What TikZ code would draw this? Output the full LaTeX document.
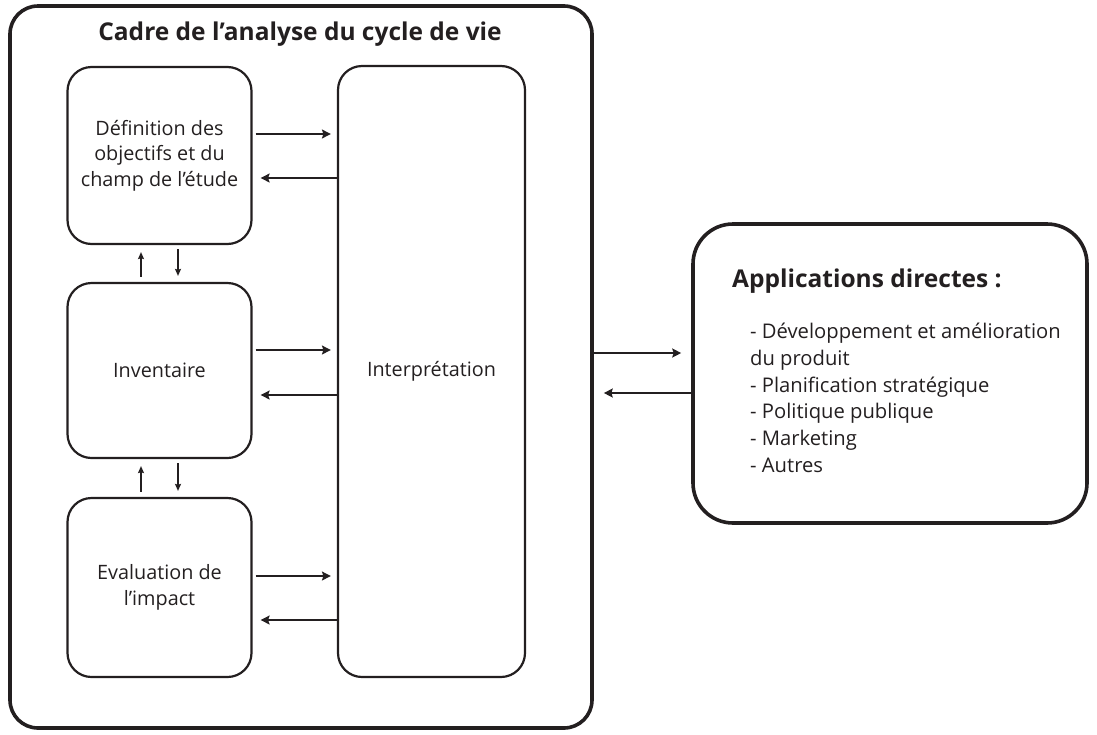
\documentclass[tikz,border=0pt]{standalone}
\usepackage{fontspec}
\setmainfont{Open Sans}
\usetikzlibrary{arrows.meta}
\definecolor{ink}{RGB}{35,31,32}
\begin{document}
\begin{tikzpicture}[x=1pt,y=-1pt, color=ink, text=ink,
  box/.style={draw=ink, line width=2.2pt, rounded corners=24pt, align=center,
    font=\fontsize{19.8}{25.5}\selectfont, inner sep=0pt},
  arr/.style={draw=ink, line width=1.5pt, -{Stealth[length=9pt,width=9pt,inset=1.5pt]}},
  sarr/.style={draw=ink, line width=1.5pt, -{Stealth[length=7pt,width=6pt,inset=1pt]}},
  bold/.style={font=\fontsize{24.5}{29}\selectfont\bfseries, inner sep=0pt}]
\useasboundingbox (0,0) rectangle (1097,734);
% outer frame
\node[draw=ink, line width=3.6pt, rounded corners=28pt, minimum width=582pt, minimum height=722pt, inner sep=0pt] (frame) at (301,367) {};
\node[bold, anchor=base] (title) at (300,40) {Cadre de l’analyse du cycle de vie};
% boxes
\node[box, minimum width=184pt, minimum height=177pt] (def) at (159.5,155.5) {Définition des\\objectifs et du\\champ de l’étude};
\node[box, minimum width=184pt, minimum height=175pt] (inv) at (159.5,370.5) {Inventaire};
\node[box, minimum width=184pt, minimum height=179pt] (eva) at (159.5,587.5) {Evaluation de\\l’impact};
\node[box, minimum width=187pt, minimum height=611pt] (int) at (431.5,371.5) {Interprétation};
% applications
\node[draw=ink, line width=3.6pt, rounded corners=40pt, minimum width=394pt, minimum height=299pt, inner sep=0pt] (app) at (890,373.5) {};
\node[bold, anchor=base west] (apptitle) at (732,287) {Applications directes :};
\node[anchor=north west, align=left, font=\fontsize{20.2}{26.7}\selectfont, inner sep=0pt] (list) at (750,323)
  {- Développement et amélioration\\du produit\\- Planification stratégique\\- Politique publique\\- Marketing\\- Autres};
% horizontal arrows
\draw[arr] ([xshift=3pt]def.east |- 0,134) -- ([xshift=-6pt]int.west |- 0,134);
\draw[arr] (int.west |- 0,178) -- ([xshift=8pt]def.east |- 0,178);
\draw[arr] ([xshift=3pt]inv.east |- 0,350) -- ([xshift=-6pt]int.west |- 0,350);
\draw[arr] (int.west |- 0,395) -- ([xshift=8pt]inv.east |- 0,395);
\draw[arr] ([xshift=3pt]eva.east |- 0,576) -- ([xshift=-6pt]int.west |- 0,576);
\draw[arr] (int.west |- 0,620) -- ([xshift=8pt]eva.east |- 0,620);
% vertical arrows
\draw[sarr] ([yshift=5pt]inv.north -| 141,0) -- ([yshift=-7pt]def.south -| 141,0);
\draw[sarr] ([yshift=-4pt]def.south -| 178,0) -- ([yshift=6pt]inv.north -| 178,0);
\draw[sarr] ([yshift=5pt]eva.north -| 141,0) -- ([yshift=-7pt]inv.south -| 141,0);
\draw[sarr] ([yshift=-4pt]inv.south -| 178,0) -- ([yshift=6pt]eva.north -| 178,0);
% big arrows
\draw[arr] (frame.east |- 0,353) -- ([xshift=-10pt]app.west |- 0,353);
\draw[arr] (app.west |- 0,393) -- ([xshift=10pt]frame.east |- 0,393);
\end{tikzpicture}
\end{document}
